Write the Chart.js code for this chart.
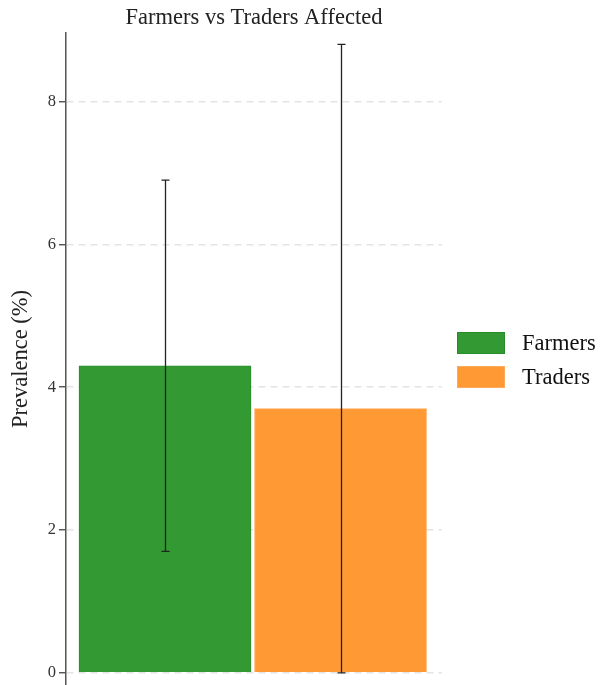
<!DOCTYPE html>
<html>
<head>
<meta charset="utf-8">
<script src="https://cdn.jsdelivr.net/npm/chart.js@4/dist/chart.umd.min.js"></script>
<style>
  html, body { margin: 0; padding: 0; background: #fff; }
  #wrap { width: 600px; height: 685px; }
</style>
</head>
<body>
<div id="wrap"><canvas id="c" width="600" height="685"></canvas></div>
<script>
// Prevalence by group with 95% confidence interval bounds
const categories = ['Farmers', 'Traders'];
const prevalence = [4.3, 3.7];
const ciLower = [1.7, 0.0];
const ciUpper = [6.9, 8.8];
const yTicks = [0, 2, 4, 6, 8];

const chartTitle = 'Farmers vs Traders Affected';
const fills = ['rgb(51,153,51)', 'rgb(255,153,51)'];
const edges = ['rgb(40,140,40)', 'rgb(255,170,90)'];
const serif = 'Liberation Serif, Times New Roman, serif';

// Title centred over the plotting area
const plotTitle = {
  id: 'plotTitle',
  afterDraw(chart) {
    const ctx = chart.ctx;
    const a = chart.chartArea;
    ctx.save();
    ctx.font = '22.5px ' + serif;
    ctx.fillStyle = '#222';
    ctx.textAlign = 'center';
    ctx.textBaseline = 'middle';
    ctx.fillText(chartTitle, (a.left + a.right) / 2, 18);
    ctx.restore();
  }
};

// Vertical error bars with caps, placed through the chart scales
const errorBars = {
  id: 'errorBars',
  afterDatasetsDraw(chart) {
    const ctx = chart.ctx;
    const ys = chart.scales.y;
    ctx.save();
    ctx.strokeStyle = '#222';
    ctx.lineWidth = 1.3;
    chart.data.datasets.forEach((ds, i) => {
      const bar = chart.getDatasetMeta(i).data[0];
      if (!bar) return;
      const x = Math.round(bar.x) + 0.5;
      const yLo = ys.getPixelForValue(ciLower[i]);
      const yHi = ys.getPixelForValue(ciUpper[i]);
      ctx.beginPath();
      ctx.moveTo(x, yLo); ctx.lineTo(x, yHi);
      ctx.moveTo(x - 4, yLo); ctx.lineTo(x + 4, yLo);
      ctx.moveTo(x - 4, yHi); ctx.lineTo(x + 4, yHi);
      ctx.stroke();
    });
    ctx.restore();
  }
};

// Legend to the right of the plotting area
const sideLegend = {
  id: 'sideLegend',
  afterDraw(chart) {
    const ctx = chart.ctx;
    const left = chart.chartArea.right + 15;
    const top = 332;
    ctx.save();
    ctx.font = '22.5px ' + serif;
    ctx.textBaseline = 'middle';
    chart.data.datasets.forEach((ds, i) => {
      const y = top + i * 34;
      ctx.fillStyle = ds.backgroundColor;
      ctx.fillRect(left, y, 48, 22);
      ctx.strokeStyle = ds.borderColor;
      ctx.lineWidth = 1;
      ctx.strokeRect(left + 0.5, y + 0.5, 47, 21);
      ctx.fillStyle = '#111';
      ctx.fillText(ds.label, left + 65, y + 12);
    });
    ctx.restore();
  }
};

new Chart(document.getElementById('c'), {
  type: 'bar',
  data: {
    datasets: categories.map((name, i) => ({
      label: name,
      data: [{ x: i, y: prevalence[i] }],
      backgroundColor: fills[i],
      borderColor: edges[i],
      borderWidth: 1,
      barThickness: 172,
      grouped: false
    }))
  },
  options: {
    responsive: false,
    animation: false,
    layout: { padding: { left: 0, right: 158, top: 33, bottom: 0 } },
    plugins: {
      legend: { display: false },
      tooltip: { enabled: false },
      title: { display: false }
    },
    scales: {
      x: {
        type: 'linear',
        min: -0.564,
        max: 1.578,
        offset: false,
        display: false
      },
      y: {
        min: -0.17,
        max: 8.96,
        afterBuildTicks(scale) {
          scale.ticks = yTicks.map(v => ({ value: v }));
        },
        afterFit(scale) {
          scale.width = 66;
          scale.paddingTop = 0;
          scale.paddingBottom = 0;
        },
        border: { display: true, color: '#555', width: 1.5, dash: [7, 5] },
        grid: {
          color: '#e4e4e4',
          lineWidth: 1.5,
          drawTicks: true,
          tickLength: 7,
          tickColor: '#444',
          tickWidth: 1.3,
          tickBorderDash: []
        },
        ticks: {
          color: '#333',
          padding: 3,
          font: { family: serif, size: 16.5 }
        },
        title: {
          display: true,
          text: 'Prevalence (%)',
          color: '#222',
          padding: { top: 8, bottom: 0 },
          font: { family: serif, size: 22.5 }
        }
      }
    }
  },
  plugins: [errorBars, sideLegend, plotTitle]
});
</script>
</body>
</html>
